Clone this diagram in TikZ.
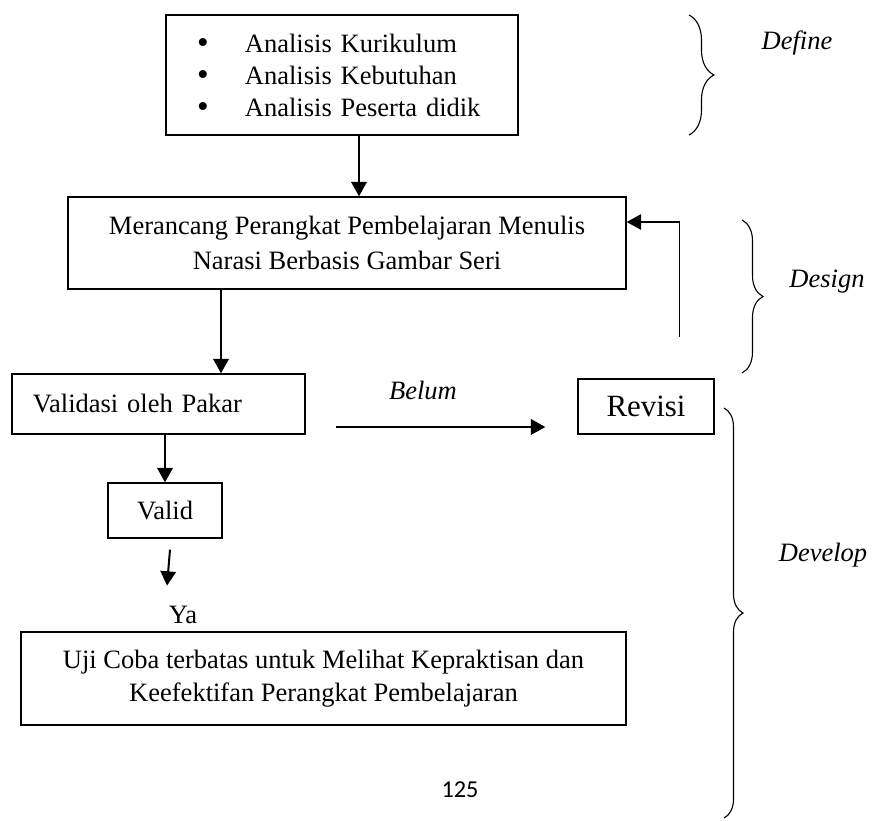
\documentclass[tikz,border=0pt]{standalone}
\usepackage{fontspec}
\setmainfont{Liberation Serif}
\newfontfamily\pagefont{Carlito}
\usetikzlibrary{arrows.meta,calc,decorations.pathreplacing}
\newcommand{\blt}{\makebox[21.7pt][l]{\raisebox{-0.5pt}[0pt][0pt]{\fontsize{15}{14.5}\selectfont\textbullet}}}
\tikzset{
  box/.style={draw,line width=0.6pt,inner sep=0pt,font=\fontsize{12}{15}\selectfont},
  arr/.style={line width=0.9pt,-{Triangle[length=6.5pt,width=7pt]}},
  curly/.style={decorate,decoration={brace,amplitude=#1},line width=0.5pt},
  lbl/.style={font=\itshape\fontsize{12}{14}\selectfont}
}
\begin{document}
\begin{tikzpicture}[x=0.4528pt,y=-0.4528pt]
\useasboundingbox (0,0) rectangle (873,821);
% boxes
\node[box,minimum width=159.4pt,minimum height=54.3pt,text width=131.3pt,inner xsep=13pt,align=left,font=\fontsize{12}{14.5}\selectfont] (anal) at (342,75)
  {\blt Analisis Kurikulum\\\blt Analisis Kebutuhan\\\blt Analisis Peserta didik};
\node[box,minimum width=252.7pt,minimum height=41.7pt,align=center,font=\fontsize{12}{15.8}\selectfont] (rancang) at (347,243)
  {Merancang Perangkat Pembelajaran Menulis\\Narasi Berbasis Gambar Seri};
\node[box,minimum width=132.7pt,minimum height=27.2pt,text width=113.7pt,inner xsep=9.5pt,align=left] (validasi) at (158.5,404) {Validasi oleh Pakar};
\node[box,minimum width=61.6pt,minimum height=24.9pt,font=\fontsize{14}{16}\selectfont] (revisi) at (646,406.5) {Revisi};
\node[box,minimum width=51.6pt,minimum height=24.9pt] (valid) at (165,510.5) {Valid};
\node[box,minimum width=273.9pt,minimum height=42.1pt,align=center] (uji) at (323.5,678.5)
  {Uji Coba terbatas untuk Melihat Kepraktisan dan\\Keefektifan Perangkat Pembelajaran};
\node[font=\fontsize{12}{14}\selectfont] (ya) at (183,615) {Ya};
\node[lbl] (belum) at (423,390) {Belum};
\node[font=\pagefont\fontsize{11}{13}\selectfont] (hal) at (460,790) {125};
% arrows
\coordinate (a1) at ($(anal.south)+(17,0)$);
\draw[arr] (a1) -- (a1 |- rancang.north);
\coordinate (a2) at ($(rancang.south)+(-126,0)$);
\draw[arr] (a2) -- (a2 |- validasi.north);
\draw[arr] (validasi.south -| valid.north) -- (valid.north);
\coordinate (y1) at ($(valid.south)+(5,11)$);
\coordinate (y2) at ($(valid.south)+(2,47)$);
\draw[arr] (y1) -- (y2);
\coordinate (b1) at ($(validasi.east)+(30,23)$);
\draw[arr] (b1) -- ($(b1 -| revisi.west)+(-32,0)$);
\coordinate (r1) at ($(rancang.east)+(53,94)$);
\draw[arr,line width=0.6pt] (r1) |- ($(rancang.east)+(0,-21)$);
% braces and phase labels
\foreach \yt/\yb/\xb/\amp in {15/135/689/11.3pt, 220/373/742/9.5pt, 408/818/724/8.6pt} % edit here for the braces
\draw[curly=\amp] (\xb,\yt) -- (\xb,\yb);
\foreach \n/\lx/\ly/\txt in {define/797/43/Define, design/827/282/Design, develop/823/555/Develop} % edit here for the labels
\node[lbl] (l\n) at (\lx,\ly) {\txt};
\end{tikzpicture}
\end{document}
